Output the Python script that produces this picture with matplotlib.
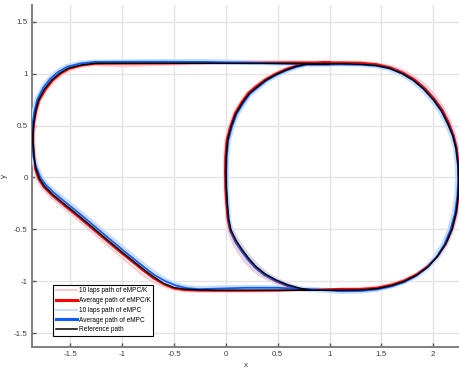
import matplotlib
matplotlib.use("Agg")
import matplotlib.pyplot as plt
import matplotlib.lines as mlines

plt.rcParams['font.family'] = ['Liberation Sans', 'DejaVu Sans']

# ---------------- data ----------------
# Reference path
ref_x = [1.00,0.60,0.20,-0.20,-0.60,-1.00,-1.26,-1.39,-1.52,-1.60,-1.68,-1.75,-1.807,-1.835,-1.855,-1.862,-1.862,-1.852,
         -1.835,-1.80,-1.75,-1.675,-1.56,-1.44,-1.32,-1.21,-1.10,-1.00,-0.90,-0.80,-0.70,
         -0.60,-0.50,-0.40,-0.28,-0.10,0.20,0.50,0.80,
         1.10,1.30,1.46,1.60,1.72,1.84,1.95,2.04,2.12,2.18,2.22,2.24,2.245,2.24,2.22,2.19,2.14,2.08,2.00,1.91,1.81,1.70,1.58,1.45,1.30,1.10,0.95,
         0.774,0.68,0.58,0.48,0.387,0.30,0.226,0.16,0.097,0.05,0.016,0.003,0.0,0.003,0.012,0.025,0.048,0.10,0.16,0.22,0.29,0.38,0.484,0.60,0.71,0.806]
ref_y = [1.095,1.097,1.098,1.099,1.100,1.100,1.099,1.083,1.051,1.005,0.938,0.85,0.746,0.64,0.52,0.42,0.33,0.20,
         0.09,-0.01,-0.085,-0.16,-0.255,-0.352,-0.452,-0.545,-0.637,-0.72,-0.80,-0.88,-0.955,
         -1.02,-1.06,-1.075,-1.082,-1.085,-1.085,-1.085,-1.085,
         -1.085,-1.083,-1.07,-1.04,-1.00,-0.94,-0.86,-0.76,-0.64,-0.50,-0.34,-0.18,-0.02,0.12,0.28,0.40,0.52,0.64,0.75,0.85,0.935,1.00,1.05,1.078,1.09,1.095,1.095,
         1.09,1.07,1.035,0.99,0.938,0.87,0.81,0.72,0.618,0.49,0.36,0.2,0.05,-0.1,-0.25,-0.4,-0.505,-0.61,-0.70,-0.78,-0.858,-0.93,-0.987,-1.035,-1.066,-1.083]

# Average path of eMPC/K
avgk_x = [1.00,0.60,0.20,-0.20,-0.60,-1.00,-1.26,-1.39,-1.51,-1.59,-1.67,-1.74,-1.80,-1.83,-1.85,-1.858,-1.858,-1.848,
          -1.843,-1.808,-1.757,-1.68,-1.565,-1.445,-1.325,-1.215,-1.105,-1.005,-0.905,-0.805,-0.705,
          -0.60,-0.50,-0.40,-0.28,-0.10,0.20,0.50,0.80,
          1.10,1.30,1.46,1.60,1.72,1.84,1.95,2.045,2.125,2.185,2.225,2.245,2.25,2.245,2.228,2.198,2.15,2.09,2.01,1.92,1.82,1.71,1.59,1.46,1.30,1.10,0.95,
          0.774,0.68,0.58,0.48,0.38,0.29,0.215,0.15,0.087,0.04,0.006,-0.007,-0.01,-0.007,0.002,0.015,0.038,0.09,0.15,0.21,0.28,0.37,0.475,0.59,0.70,0.806]
avgk_y = [1.108,1.108,1.106,1.100,1.096,1.095,1.093,1.078,1.046,1.0,0.933,0.845,0.742,0.64,0.52,0.42,0.33,0.20,
          0.085,-0.018,-0.095,-0.172,-0.267,-0.364,-0.464,-0.557,-0.649,-0.732,-0.812,-0.893,-0.968,
          -1.03,-1.07,-1.085,-1.09,-1.092,-1.092,-1.09,-1.08,
          -1.072,-1.072,-1.06,-1.03,-0.99,-0.93,-0.85,-0.755,-0.635,-0.495,-0.335,-0.175,-0.02,0.12,0.285,0.405,0.53,0.65,0.76,0.86,0.945,1.01,1.06,1.09,1.105,1.108,1.108,
          1.095,1.078,1.045,1.0,0.945,0.878,0.815,0.725,0.62,0.49,0.36,0.2,0.05,-0.1,-0.25,-0.4,-0.51,-0.62,-0.71,-0.79,-0.868,-0.94,-0.997,-1.045,-1.072,-1.083]

# Average path of eMPC
avg_x = [1.00,0.60,0.20,-0.20,-0.60,-1.00,-1.27,-1.40,-1.53,-1.615,-1.695,-1.765,-1.82,-1.848,-1.865,-1.87,-1.868,-1.858,
         -1.828,-1.79,-1.738,-1.662,-1.547,-1.427,-1.307,-1.197,-1.087,-0.987,-0.887,-0.787,-0.687,
         -0.58,-0.48,-0.38,-0.26,-0.10,0.20,0.50,0.80,
         1.10,1.30,1.46,1.60,1.72,1.835,1.94,2.03,2.105,2.165,2.21,2.232,2.24,2.237,2.218,2.188,2.138,2.078,1.998,1.908,1.808,1.698,1.578,1.45,1.30,1.10,0.95,
         0.774,0.68,0.58,0.48,0.39,0.305,0.232,0.167,0.104,0.057,0.022,0.008,0.004,0.006,0.014,0.026,0.045,0.095,0.153,0.213,0.283,0.373,0.478,0.595,0.705,0.806]
avg_y = [1.09,1.095,1.105,1.112,1.114,1.114,1.112,1.098,1.066,1.018,0.95,0.86,0.75,0.64,0.52,0.42,0.33,0.20,
         0.095,0.0,-0.072,-0.145,-0.24,-0.337,-0.437,-0.53,-0.622,-0.705,-0.785,-0.865,-0.94,
         -1.0,-1.04,-1.065,-1.075,-1.07,-1.062,-1.062,-1.075,
         -1.095,-1.093,-1.078,-1.048,-1.008,-0.948,-0.868,-0.768,-0.648,-0.505,-0.345,-0.18,-0.02,0.12,0.28,0.40,0.52,0.64,0.75,0.85,0.935,1.0,1.05,1.075,1.085,1.088,1.085,
         1.085,1.064,1.028,0.983,0.932,0.865,0.805,0.715,0.612,0.485,0.355,0.2,0.05,-0.1,-0.25,-0.4,-0.51,-0.618,-0.708,-0.788,-0.865,-0.937,-0.993,-1.04,-1.07,-1.085]

# Laps of eMPC/K (two sampled laps bounding the spread)
lapk1_x = [1.00,0.60,0.20,-0.20,-0.60,-1.00,-1.26,-1.40,-1.53,-1.62,-1.70,-1.77,-1.825,-1.855,-1.872,-1.878,-1.875,-1.865,
           -1.855,-1.822,-1.772,-1.697,-1.58,-1.46,-1.34,-1.23,-1.12,-1.02,-0.92,-0.82,-0.715,
           -0.61,-0.505,-0.40,-0.28,-0.10,0.20,0.50,0.80,
           1.10,1.30,1.47,1.62,1.75,1.87,1.975,2.07,2.15,2.205,2.24,2.255,2.26,2.255,2.24,2.21,2.165,2.105,2.03,1.94,1.84,1.725,1.60,1.46,1.30,1.10,0.95,
           0.774,0.67,0.57,0.47,0.37,0.28,0.205,0.14,0.075,0.03,-0.005,-0.018,-0.02,-0.015,-0.005,0.005,0.025,0.07,0.125,0.185,0.255,0.345,0.455,0.575,0.69,0.80]
lapk1_y = [1.115,1.12,1.115,1.105,1.1,1.09,1.1,1.09,1.06,1.012,0.945,0.855,0.75,0.64,0.52,0.42,0.33,0.20,
           0.08,-0.025,-0.105,-0.185,-0.283,-0.382,-0.482,-0.578,-0.672,-0.758,-0.842,-0.925,-1.0,
           -1.045,-1.08,-1.095,-1.1,-1.1,-1.1,-1.095,-1.09,
           -1.07,-1.065,-1.05,-1.015,-0.97,-0.905,-0.82,-0.72,-0.60,-0.46,-0.31,-0.16,-0.02,0.12,0.29,0.42,0.545,0.665,0.775,0.875,0.96,1.025,1.072,1.1,1.115,1.115,1.112,
           1.1,1.085,1.052,1.008,0.952,0.885,0.82,0.73,0.625,0.495,0.36,0.2,0.05,-0.1,-0.25,-0.4,-0.52,-0.64,-0.735,-0.815,-0.89,-0.955,-1.01,-1.05,-1.075,-1.085]
lapk2_x = [1.00,0.60,0.20,-0.20,-0.60,-1.00,-1.25,-1.38,-1.50,-1.58,-1.66,-1.73,-1.79,-1.82,-1.84,-1.848,-1.848,-1.838,
           -1.818,-1.782,-1.73,-1.655,-1.54,-1.42,-1.30,-1.19,-1.08,-0.985,-0.89,-0.79,-0.69,
           -0.59,-0.495,-0.39,-0.27,-0.10,0.20,0.50,0.80,
           1.10,1.30,1.45,1.59,1.71,1.83,1.94,2.03,2.105,2.165,2.205,2.225,2.23,2.225,2.205,2.175,2.128,2.07,1.99,1.90,1.80,1.69,1.57,1.44,1.29,1.10,0.95,
           0.774,0.685,0.59,0.49,0.395,0.31,0.235,0.17,0.108,0.06,0.026,0.012,0.008,0.01,0.02,0.035,0.06,0.115,0.175,0.24,0.31,0.395,0.495,0.61,0.715,0.806]
lapk2_y = [1.1,1.1,1.1,1.095,1.085,1.07,1.08,1.068,1.035,0.99,0.925,0.838,0.738,0.64,0.52,0.42,0.33,0.20,
           0.095,0.005,-0.07,-0.143,-0.237,-0.333,-0.433,-0.527,-0.618,-0.70,-0.78,-0.858,-0.94,
           -1.0,-1.045,-1.07,-1.08,-1.085,-1.08,-1.075,-1.07,
           -1.08,-1.078,-1.065,-1.038,-1.0,-0.945,-0.868,-0.77,-0.65,-0.51,-0.35,-0.19,-0.02,0.12,0.27,0.39,0.51,0.63,0.74,0.84,0.925,0.99,1.04,1.07,1.085,1.095,1.098,
           1.085,1.062,1.025,0.98,0.928,0.86,0.8,0.71,0.608,0.48,0.35,0.2,0.05,-0.1,-0.25,-0.39,-0.49,-0.595,-0.685,-0.765,-0.845,-0.915,-0.975,-1.025,-1.058,-1.075]

# Laps of eMPC
lap1_x = [1.00,0.60,0.20,-0.20,-0.60,-1.00,-1.28,-1.41,-1.545,-1.63,-1.71,-1.78,-1.835,-1.862,-1.878,-1.882,-1.88,-1.87,
          -1.85,-1.815,-1.765,-1.69,-1.575,-1.455,-1.335,-1.22,-1.11,-1.005,-0.905,-0.805,-0.705,
          -0.595,-0.495,-0.39,-0.27,-0.10,0.20,0.50,0.80,
          1.10,1.30,1.46,1.60,1.725,1.845,1.955,2.05,2.13,2.19,2.235,2.255,2.262,2.258,2.24,2.21,2.16,2.1,2.02,1.93,1.83,1.715,1.59,1.455,1.30,1.10,0.95,
          0.774,0.675,0.575,0.475,0.38,0.292,0.218,0.152,0.088,0.042,0.008,-0.006,-0.01,-0.008,0.0,0.012,0.03,0.078,0.135,0.195,0.265,0.355,0.462,0.58,0.695,0.80]
lap1_y = [1.105,1.11,1.12,1.13,1.13,1.125,1.125,1.112,1.08,1.03,0.96,0.868,0.755,0.64,0.52,0.42,0.33,0.20,
          0.085,-0.02,-0.098,-0.175,-0.27,-0.367,-0.467,-0.56,-0.652,-0.733,-0.813,-0.895,-0.97,
          -1.015,-1.06,-1.085,-1.095,-1.09,-1.08,-1.075,-1.09,
          -1.11,-1.108,-1.09,-1.058,-1.015,-0.955,-0.875,-0.775,-0.655,-0.51,-0.35,-0.185,-0.02,0.12,0.285,0.41,0.535,0.655,0.765,0.865,0.95,1.015,1.065,1.092,1.1,1.1,1.095,
          1.098,1.078,1.043,0.998,0.945,0.878,0.815,0.725,0.62,0.49,0.358,0.2,0.05,-0.1,-0.25,-0.4,-0.515,-0.63,-0.722,-0.803,-0.88,-0.95,-1.005,-1.05,-1.078,-1.095]
lap2_x = [1.00,0.60,0.20,-0.20,-0.60,-1.00,-1.26,-1.39,-1.515,-1.60,-1.68,-1.75,-1.805,-1.835,-1.852,-1.858,-1.856,-1.846,
          -1.812,-1.775,-1.722,-1.645,-1.53,-1.41,-1.29,-1.18,-1.07,-0.97,-0.87,-0.77,-0.67,
          -0.565,-0.465,-0.37,-0.25,-0.10,0.20,0.50,0.80,
          1.10,1.30,1.455,1.59,1.71,1.825,1.925,2.01,2.085,2.145,2.19,2.212,2.22,2.218,2.2,2.17,2.12,2.06,1.982,1.892,1.792,1.685,1.568,1.44,1.30,1.10,0.95,
          0.774,0.685,0.588,0.488,0.4,0.318,0.246,0.182,0.12,0.072,0.036,0.022,0.018,0.02,0.028,0.04,0.06,0.112,0.17,0.232,0.3,0.39,0.494,0.61,0.715,0.806]
lap2_y = [1.08,1.085,1.095,1.1,1.102,1.105,1.1,1.085,1.052,1.005,0.94,0.852,0.745,0.64,0.52,0.42,0.33,0.20,
          0.1,0.01,-0.06,-0.13,-0.222,-0.318,-0.418,-0.51,-0.602,-0.685,-0.765,-0.845,-0.92,
          -0.985,-1.025,-1.048,-1.055,-1.05,-1.045,-1.048,-1.062,
          -1.082,-1.08,-1.066,-1.038,-0.998,-0.94,-0.86,-0.76,-0.64,-0.5,-0.34,-0.178,-0.02,0.12,0.275,0.39,0.505,0.625,0.735,0.835,0.92,0.985,1.035,1.062,1.075,1.08,1.078,
          1.075,1.052,1.015,0.97,0.92,0.852,0.795,0.705,0.605,0.478,0.35,0.2,0.05,-0.1,-0.25,-0.4,-0.505,-0.608,-0.695,-0.775,-0.852,-0.925,-0.982,-1.03,-1.062,-1.078]

x_ticks = [-1.5, -1, -0.5, 0, 0.5, 1, 1.5, 2]
x_ticklabels = ['-1.5', '-1', '-0.5', '0', '0.5', '1', '1.5', '2']
y_ticks = [-1.5, -1, -0.5, 0, 0.5, 1, 1.5]
y_ticklabels = ['-1.5', '-1', '-0.5', '0', '0.5', '1', '1.5']
labels = ['10 laps path of eMPC/K', 'Average path of eMPC/K', '10 laps path of eMPC',
          'Average path of eMPC', 'Reference path']

# ---------------- figure ----------------
fig = plt.figure(figsize=(4.6, 3.71), dpi=100)
ax = fig.add_axes([32/460, 24/371, 428/460, 342/371])

c_lapk = '#ffcaca'
c_lap = '#c6ddff'
c_avgk = '#ff0000'
c_avg = '#0a5cff'

ax.plot(lapk1_x, lapk1_y, color=c_lapk, lw=1.4, zorder=2)
ax.plot(lapk2_x, lapk2_y, color=c_lapk, lw=1.4, zorder=2)
ax.plot(lap1_x, lap1_y, color=c_lap, lw=1.6, zorder=3)
ax.plot(lap2_x, lap2_y, color=c_lap, lw=1.6, zorder=3)
ax.plot(avgk_x, avgk_y, color=c_avgk, lw=1.3, zorder=4)
ax.plot(avg_x, avg_y, color=c_avg, lw=1.3, zorder=5)
ax.plot(ref_x, ref_y, color='black', lw=1.1, zorder=6)

ax.set_xlim(-1.871, 2.258)
ax.set_ylim(-1.632, 1.66)
ax.set_xticks(x_ticks)
ax.set_xticklabels(x_ticklabels)
ax.set_yticks(y_ticks)
ax.set_yticklabels(y_ticklabels)

ax.grid(True, color='#e4e4e4', lw=1.0, zorder=0)
ax.set_axisbelow(True)
for s in ['top', 'right']:
    ax.spines[s].set_visible(False)
for s in ['left', 'bottom']:
    ax.spines[s].set_color('#7f7f7f')
    ax.spines[s].set_linewidth(1.4)
ax.tick_params(direction='in', length=3, width=1.0, color='#555555',
               labelsize=5.8, labelcolor='#404040', pad=3)

ax.set_xlabel('x', fontsize=5.8, color='#404040', labelpad=3)
ax.set_ylabel('y', fontsize=5.8, color='#404040', labelpad=4)

lh1 = mlines.Line2D([], [], color=c_lapk, lw=1.4)
lh2 = mlines.Line2D([], [], color=c_avgk, lw=2.2)
lh3 = mlines.Line2D([], [], color=c_lap, lw=1.4)
lh4 = mlines.Line2D([], [], color=c_avg, lw=2.2)
lh5 = mlines.Line2D([], [], color='black', lw=1.1)
leg = ax.legend([lh1, lh2, lh3, lh4, lh5], labels, loc='lower left',
                bbox_to_anchor=(21/428, 11/342), borderaxespad=0, fontsize=4.7,
                frameon=True, fancybox=False, edgecolor='black', framealpha=1,
                handlelength=3.3, handletextpad=0.25, labelspacing=0.42,
                borderpad=0.4)
leg.get_frame().set_linewidth(0.8)

fig.savefig('out.png', dpi=100)
